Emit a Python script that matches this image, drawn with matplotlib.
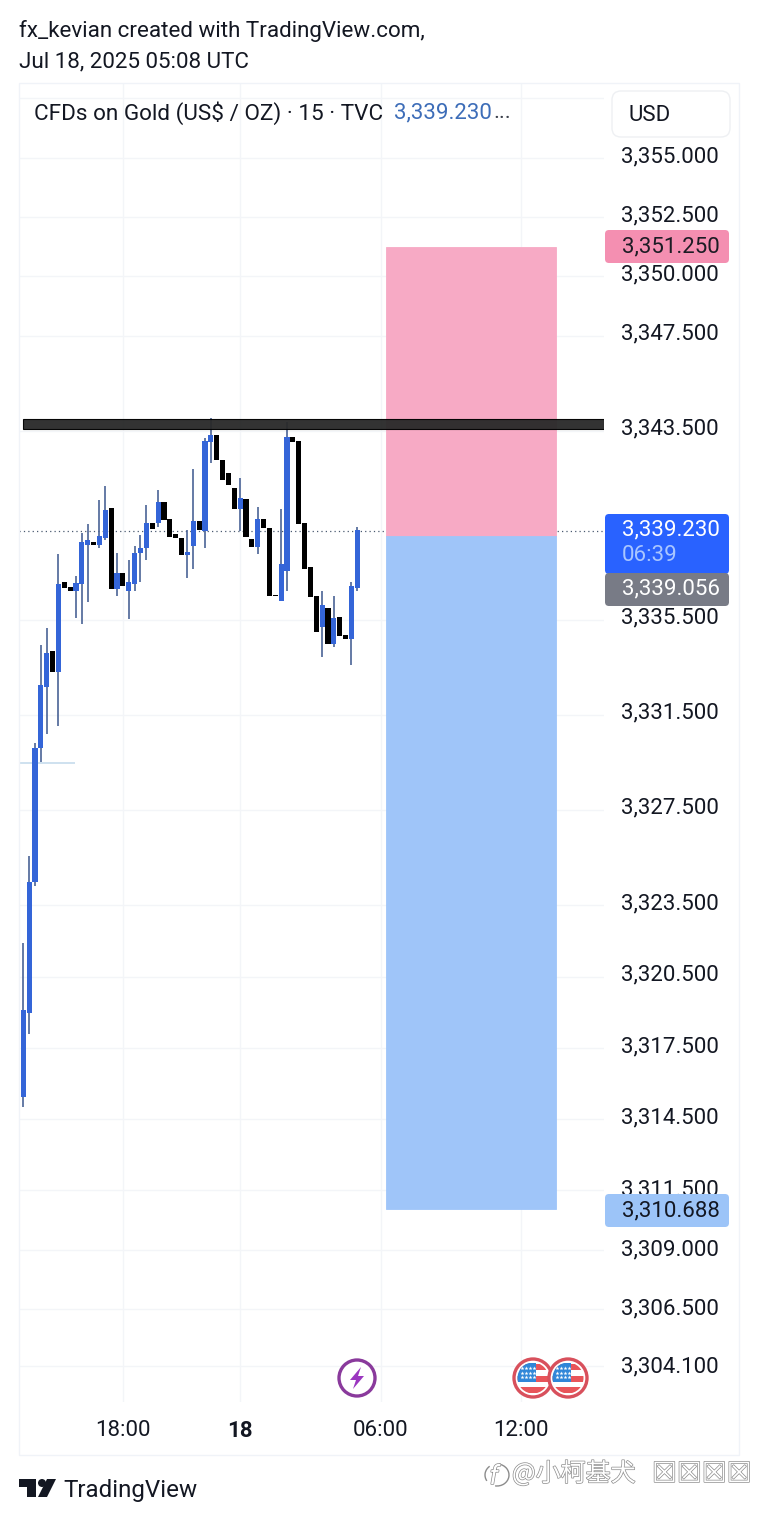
import numpy as np
import matplotlib
matplotlib.use("Agg")
import matplotlib.pyplot as plt
import matplotlib.patheffects as pe
from matplotlib.patches import Rectangle, Circle, Polygon, FancyBboxPatch, Arc
from matplotlib.transforms import ScaledTranslation

plt.rcParams['font.family'] = ['Roboto', 'DejaVu Sans']

# candles, 15 min bars
opens = [3315.43, 3318.96, 3324.47, 3330.14, 3332.71, 3334.22, 3333.34, 3337.13, 3336.92, 3336.75,
         3337.04, 3338.68, 3338.81, 3338.68, 3338.98, 3340.24, 3336.83, 3337.50, 3336.75, 3337.04,
         3338.35, 3338.56, 3339.61, 3339.61, 3340.49, 3339.78, 3339.15, 3338.98, 3338.26, 3338.64,
         3339.69, 3339.27, 3343.02, 3343.31, 3342.26, 3341.71, 3341.08, 3340.20, 3340.62, 3338.94,
         3338.60, 3339.78, 3339.40, 3336.58, 3336.33, 3337.59, 3343.23, 3343.06, 3339.61, 3337.76,
         3336.54, 3335.23, 3336.03, 3334.52, 3335.65, 3334.90, 3334.73, 3336.87]
closes = [3319.09, 3324.47, 3330.11, 3332.79, 3334.14, 3333.34, 3337.04, 3336.87, 3336.75, 3337.08,
          3338.81, 3338.89, 3338.68, 3339.06, 3340.16, 3336.83, 3337.50, 3336.96, 3337.13, 3338.35,
          3338.56, 3339.61, 3339.36, 3340.49, 3339.73, 3339.02, 3338.98, 3338.26, 3338.39, 3339.69,
          3339.31, 3343.06, 3343.31, 3342.26, 3341.42, 3341.21, 3340.20, 3340.66, 3339.02, 3338.60,
          3339.78, 3339.40, 3336.54, 3336.54, 3337.88, 3343.23, 3343.02, 3339.57, 3337.67, 3336.50,
          3335.02, 3336.16, 3334.52, 3335.61, 3334.85, 3334.73, 3336.96, 3339.31]
highs = [3321.91, 3325.57, 3330.32, 3334.48, 3335.19, 3334.22, 3338.30, 3337.13, 3336.92, 3337.38,
         3339.19, 3339.57, 3338.81, 3340.58, 3341.16, 3340.24, 3338.35, 3337.50, 3338.05, 3338.64,
         3339.10, 3340.37, 3339.61, 3341.00, 3340.49, 3339.78, 3339.15, 3338.98, 3339.31, 3341.88,
         3339.69, 3343.18, 3344.03, 3343.31, 3342.26, 3341.71, 3341.08, 3341.50, 3340.62, 3338.94,
         3340.28, 3339.78, 3339.40, 3336.58, 3340.20, 3343.86, 3343.23, 3343.06, 3339.61, 3337.76,
         3336.54, 3336.75, 3336.03, 3336.54, 3335.65, 3334.90, 3337.13, 3339.44]
lows = [3315.01, 3318.08, 3324.31, 3329.55, 3330.73, 3333.34, 3331.07, 3336.87, 3336.75, 3335.61,
        3335.36, 3336.28, 3338.68, 3338.56, 3338.89, 3336.83, 3336.54, 3336.96, 3335.57, 3336.75,
        3337.13, 3338.05, 3339.36, 3339.44, 3339.73, 3339.02, 3338.98, 3338.26, 3337.29, 3337.67,
        3339.31, 3338.56, 3342.13, 3342.26, 3341.42, 3341.21, 3340.20, 3339.27, 3339.02, 3338.60,
        3338.30, 3339.40, 3336.54, 3336.54, 3336.33, 3336.75, 3343.02, 3339.57, 3337.67, 3336.50,
        3335.02, 3333.97, 3334.52, 3334.39, 3334.85, 3334.73, 3333.63, 3336.75]

# axis
price_ticks = [3355.0, 3352.5, 3350.0, 3347.5, 3343.5, 3335.5, 3331.5, 3327.5, 3323.5, 3320.5,
               3317.5, 3314.5, 3311.5, 3309.0, 3306.5, 3304.1]
extra_grid = [3357.5]
time_ticks = [17, 37, 61, 85]
time_labels = ['18:00', '18', '06:00', '12:00']

# drawn objects
last_price_line = 3339.28
stop_price = 3351.25
entry_price = 3339.056
target_price = 3310.688
level_top = 3343.97
level_bottom = 3343.58
faint_level = 3329.49

BLUE = '#3465d8'
WICK = '#4a6396'
W, H = 758, 1521

fig = plt.figure(figsize=(W / 100, H / 100), dpi=100, facecolor='white')

# price pane, pixel box 19..604 / 84..1402
ax = fig.add_axes([19 / W, 1 - 1402 / H, 585 / W, 1318 / H])
ax.set_xlim((19 - 23.3) / 5.86, (604 - 23.3) / 5.86)
ax.set_ylim(3355 - (1402 - 157.5) / 23.74, 3355 + (157.5 - 84) / 23.74)
for s in ax.spines.values():
    s.set_visible(False)

ax.set_xticks(time_ticks)
ax.set_xticklabels(time_labels, fontsize=16, color='#131722')
ax.get_xticklabels()[1].set_fontweight('bold')
ax.set_yticks(price_ticks + extra_grid)
ax.set_yticklabels(['{:,.3f}'.format(p) for p in price_ticks] + [''], fontsize=16, color='#131722')
ax.yaxis.tick_right()
ax.tick_params(axis='both', length=0)
ax.tick_params(axis='y', pad=12.2)
ax.tick_params(axis='x', pad=12.8)
ax.grid(True, color='#f3f5f8', lw=1)
ax.set_axisbelow(True)
# the price labels sit a little above their grid lines, by a varying amount in this image
label_lift = [3, 3, 4, 4, 4, 5, 5, 5, 4, 4, 3, 4, 3, 2, 2, 1, 3]
for lab, lift in zip(ax.get_yticklabels(), label_lift):
    lab.set_transform(lab.get_transform() + ScaledTranslation(0, lift / 100, fig.dpi_scale_trans))

x = np.arange(len(opens))
o = np.array(opens)
c = np.array(closes)
up = c >= o
colors = [BLUE if u else '#000000' for u in up]

ax.hlines(faint_level, ax.get_xlim()[0], 8.8, color='#c6dcec', lw=1.2, zorder=1.5)
ax.axhline(last_price_line, color='#4a5a70', lw=0.9, ls=(0, (1, 2.5)), zorder=1.6)

ax.add_patch(Rectangle((61.9, entry_price), 29, stop_price - entry_price, fc='#f7aac5', ec='#f7aac5', lw=0.6, zorder=2))
ax.add_patch(Rectangle((61.9, target_price), 29, entry_price - target_price, fc='#9fc5f9', ec='#9fc5f9', lw=0.6, zorder=2))

ax.vlines(x[up], np.array(lows)[up], np.array(highs)[up], color=WICK, lw=1.2, zorder=3)
ax.bar(x, np.abs(c - o), bottom=np.minimum(o, c), width=0.88, color=colors, zorder=4)

ax.add_patch(Rectangle((-0.05, level_bottom), 99.2, level_top - level_bottom, fc='#2a2a2a', ec='#000000',
                       lw=0.8, alpha=0.96, zorder=5))

# everything around the pane in image pixels
ov = fig.add_axes([0, 0, 1, 1], zorder=10)
ov.set_xlim(0, W)
ov.set_ylim(H, 0)
ov.axis('off')
ov.patch.set_alpha(0)

ov.add_patch(Rectangle((19, 83), 720, 1372, fc='none', ec='#f0f3f8', lw=1))

ov.text(19, 31, 'fx_kevian created with TradingView.com,', fontsize=16.1, color='#131722', va='center')
ov.text(19, 62, 'Jul 18, 2025 05:08 UTC', fontsize=16.1, color='#131722', va='center')
ov.text(34, 113, 'CFDs on Gold (US$ / OZ) · 15 · TVC', fontsize=16.2, color='#131722', va='center')
ov.text(394, 113, '3,339.230', fontsize=16, color='#3d6db8', va='center')
ov.text(493, 113, '...', fontsize=16, color='#3a3f4a', va='center')

ov.add_patch(FancyBboxPatch((620, 99), 102, 30, boxstyle='round,pad=8,rounding_size=9', fc='white', ec='#eef0f3', lw=1))
ov.text(629, 115.5, 'USD', fontsize=16, color='#131722', va='center')


def tag(y0, y1, color):
    ov.add_patch(FancyBboxPatch((605, y0), 124, y1 - y0, boxstyle='round,pad=0,rounding_size=4', fc=color, ec='none'))


tag(230, 263, '#f48fb1')
ov.text(622, 246.5, '3,351.250', fontsize=16, color='#1c1c24', va='center')
tag(1194, 1227, '#9cc4f8')
ov.text(622, 1210.5, '3,310.688', fontsize=16, color='#131722', va='center')
tag(514, 574, '#2962ff')
ov.text(622, 529.5, '3,339.230', fontsize=16, color='white', va='center')
ov.text(622, 555.5, '06:39', fontsize=16, color='#a9c6ff', va='center')
tag(573, 606, '#787b86')
ov.text(622, 588.5, '3,339.056', fontsize=16, color='white', va='center')

# lightning event
ov.add_patch(Circle((357, 1378), 18, fc='white', ec='#8a3a9c', lw=2.4))
ov.add_patch(Polygon([(361, 1367), (350, 1380), (356, 1380), (353, 1389), (364, 1376), (358, 1376)],
                     fc='#9b36c0', ec='none'))


# news events
def flag(cx, cy):
    ov.add_patch(Circle((cx, cy), 19, fc='white', ec='#d8505c', lw=2.4))
    disc = Circle((cx, cy), 15.5, fc='white', ec='none')
    ov.add_patch(disc)
    for y0 in (-14, -2.5, 9):
        r = Rectangle((cx - 16, cy + y0), 32, 6, fc='#e8555a', ec='none')
        ov.add_patch(r)
        r.set_clip_path(disc)
    r = Rectangle((cx - 16, cy - 15), 18.5, 18.5, fc='#2f86d8', ec='none')
    ov.add_patch(r)
    r.set_clip_path(disc)
    for dy in (-10, -5.5, -1):
        ov.plot(cx + np.array([-11, -7, -3, 0.5]), np.full(4, cy + dy), ls='none', marker='*', ms=3,
                color='white', mew=0)


flag(533, 1378)
flag(568, 1378)

# TradingView logo
ov.add_patch(Polygon([(19, 1479), (36, 1479), (36, 1497), (27, 1497), (27, 1487), (19, 1487)], fc='#131722', ec='none'))
ov.add_patch(Circle((42, 1483), 4, fc='#131722', ec='none'))
ov.add_patch(Polygon([(47, 1479), (56, 1479), (47, 1497), (38, 1497)], fc='#131722', ec='none'))
ov.text(63, 1491, 'TradingView', fontsize=17.4, color='#131722', va='center')

# weibo watermark
halo = [pe.withStroke(linewidth=1.0, foreground='#8c8c8c')]
ov.text(512, 1474, '@小柯基犬', fontsize=18, color='white', va='center', ha='left',
        family=['Noto Sans CJK SC', 'DejaVu Sans'], path_effects=halo)
ov.text(652, 1474, '☒☒☒☒', fontsize=20, color='white', va='center', ha='left',
        family=['DejaVu Sans'], path_effects=halo)
ov.text(494, 1477, 'f', fontsize=19, style='italic', color='white', va='center', ha='center', path_effects=halo)
ov.add_patch(Arc((497, 1475), 24, 22, theta1=-80, theta2=100, ec='#8c8c8c', lw=1))
ov.add_patch(Arc((497, 1475), 24, 22, theta1=150, theta2=230, ec='#8c8c8c', lw=1))

fig.savefig('out.png', dpi=100)
